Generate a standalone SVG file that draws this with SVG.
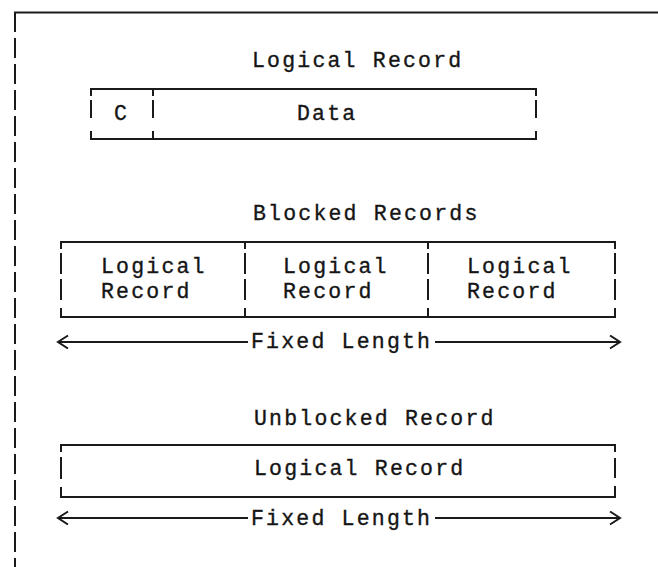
<svg xmlns="http://www.w3.org/2000/svg" width="658" height="567" viewBox="0 0 658 567">
<defs>
<style>
.t{font-family:"Liberation Mono","Courier New",monospace;font-size:21.5px;letter-spacing:2.2px;fill:#151515;stroke:#151515;stroke-width:0.35px;}
.ln{stroke:#1a1a1a;stroke-width:2;fill:none;stroke-linecap:square;}
.ar{stroke:#1a1a1a;stroke-width:1.8;fill:none;}
</style>
<marker id="ah" markerUnits="userSpaceOnUse" markerWidth="14" markerHeight="16" refX="11" refY="7" orient="auto-start-reverse">
<path d="M1,0.5 L11,7 L1,13.5" stroke="#1a1a1a" stroke-width="2" fill="none"/>
</marker>
</defs>
<rect width="658" height="567" fill="#fff"/>
<g id="frame">
<path class="ln" d="M15,12.5 H658"/>
<path class="ln" d="M15,13 V567" stroke-dasharray="18 8"/>
</g>
<g id="logical-record">
<text class="t" x="252" y="67">Logical Record</text>
<path class="ln" d="M91,95 V89 H536 V95 M91,101 V117 M536,101 V117 M153,95 V89 M153,101 V117 M91,132 V139 H536 V132 M153,132 V139"/>
<text class="t" x="114" y="120">C</text>
<text class="t" x="297" y="120">Data</text>
</g>
<g id="blocked-records">
<text class="t" x="253" y="220">Blocked Records</text>
<path class="ln" d="M61,248 V242 H615 V248 M245,248 V242 M428,248 V242 M61,254 V273 M61,280 V299 M245,254 V273 M245,280 V299 M428,254 V273 M428,280 V299 M615,254 V273 M615,280 V299 M61,309 V317 H615 V309 M245,309 V317 M428,309 V317"/>
<text class="t" x="101" y="273">Logical</text>
<text class="t" x="101" y="298">Record</text>
<text class="t" x="283" y="273">Logical</text>
<text class="t" x="283" y="298">Record</text>
<text class="t" x="467" y="273">Logical</text>
<text class="t" x="467" y="298">Record</text>
</g>
<g id="unblocked-record">
<text class="t" x="254" y="425">Unblocked Record</text>
<path class="ln" d="M61,451 V445 H615 V451 M61,458 V478 M615,459 V477 M61,488 V497 H615 V487"/>
<text class="t" x="254" y="475">Logical Record</text>
</g>
<g id="connectors">
<path class="ar" d="M248,342 H58" marker-end="url(#ah)"/>
<path class="ar" d="M435,342 H620" marker-end="url(#ah)"/>
<text class="t" x="251" y="348">Fixed Length</text>
<path class="ar" d="M248,518 H58" marker-end="url(#ah)"/>
<path class="ar" d="M435,518 H620" marker-end="url(#ah)"/>
<text class="t" x="251" y="525">Fixed Length</text>
</g>
</svg>
